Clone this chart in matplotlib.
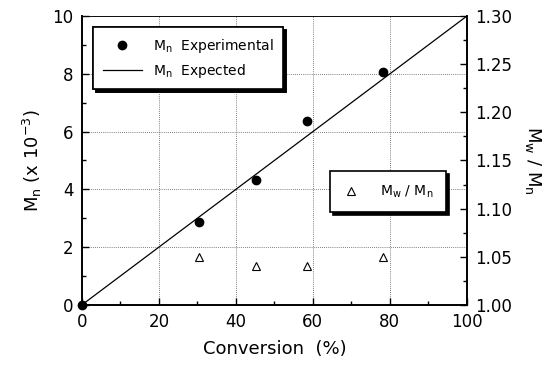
import matplotlib
matplotlib.use("Agg")
import matplotlib.pyplot as plt
from matplotlib.ticker import MultipleLocator

conversion = [0, 30.4, 45.3, 58.4, 78.3]
mn_exp = [0, 2.88, 4.31, 6.37, 8.07]
conv_pdi = [30.4, 45.3, 58.4, 78.3]
pdi = [1.050, 1.040, 1.040, 1.050]
line_x = [0, 100]
line_y = [0, 10]

plt.rcParams['font.family'] = ['DejaVu Sans']
plt.rcParams['mathtext.fontset'] = 'dejavusans'

MN = r'$\mathrm{M}_\mathrm{n}$'
MW = r'$\mathrm{M}_\mathrm{w}$'

fig = plt.figure(figsize=(5.46, 3.66), dpi=100)
ax = fig.add_axes([0.150, 0.167, 0.705, 0.789])
ax2 = ax.twinx()

ax.plot(line_x, line_y, color='black', lw=0.9, label=MN + '  Expected', zorder=3)
ax.plot(conversion, mn_exp, 'o', color='black', ms=6, label=MN + '  Experimental', zorder=4, clip_on=False)
ax2.plot(conv_pdi, pdi, '^', mfc='white', mec='black', ms=5.5, mew=0.8, label=MW + ' / ' + MN, linestyle='none')

ax.set_xlim(0, 100)
ax.set_ylim(0, 10)
ax2.set_ylim(1.0, 1.30)

ax.xaxis.set_major_locator(MultipleLocator(20))
ax.xaxis.set_minor_locator(MultipleLocator(10))
ax.yaxis.set_major_locator(MultipleLocator(2))
ax.yaxis.set_minor_locator(MultipleLocator(1))
ax2.yaxis.set_major_locator(MultipleLocator(0.05))
ax2.yaxis.set_minor_locator(MultipleLocator(0.025))
ax2.yaxis.set_major_formatter(matplotlib.ticker.FormatStrFormatter('%.2f'))

ax.grid(True, which='major', linestyle=(0, (1, 1.5)), color='#555555', lw=0.6)
for a in (ax, ax2):
    a.tick_params(which='both', direction='in', labelsize=12, length=5, width=1, pad=6)
    a.tick_params(which='minor', length=3)
ax.tick_params(top=False)
for s in ['left', 'bottom', 'right']:
    ax.spines[s].set_linewidth(1.2)
    ax2.spines[s].set_linewidth(1.2)
ax.spines['top'].set_linewidth(0.5)
ax2.spines['top'].set_linewidth(0.5)

ax.set_xlabel('Conversion  (%)', fontsize=13, labelpad=6)
ax.set_ylabel(MN + r' (x 10$^{-3}$)', fontsize=13, labelpad=6)
ax2.set_ylabel(MW + ' / ' + MN, fontsize=13, rotation=270, labelpad=22)

h1, l1 = ax.get_legend_handles_labels()
leg1 = ax.legend([h1[1], h1[0]], [l1[1], l1[0]], loc='upper left', bbox_to_anchor=(0.029, 0.962),
                 borderaxespad=0, fontsize=10, frameon=True, fancybox=False, edgecolor='black',
                 shadow={'color': 'black', 'alpha': 1.0, 'ox': 2, 'oy': -2},
                 handlelength=2.8, borderpad=0.7, labelspacing=0.5)
leg1.get_frame().set_linewidth(1.2)
leg1.set_zorder(10)
ax2.set_zorder(ax.get_zorder() + 1)
ax2.patch.set_visible(False)
ax.add_artist(leg1)

leg2 = ax2.legend(loc='upper left', bbox_to_anchor=(0.644, 0.464), borderaxespad=0,
                  fontsize=10, frameon=True, fancybox=False, edgecolor='black',
                  shadow={'color': 'black', 'alpha': 1.0, 'ox': 2, 'oy': -2},
                  handlelength=1.2, borderpad=0.9, handletextpad=1.5)
leg2.get_frame().set_linewidth(1.2)

fig.savefig('out.png', dpi=100)
